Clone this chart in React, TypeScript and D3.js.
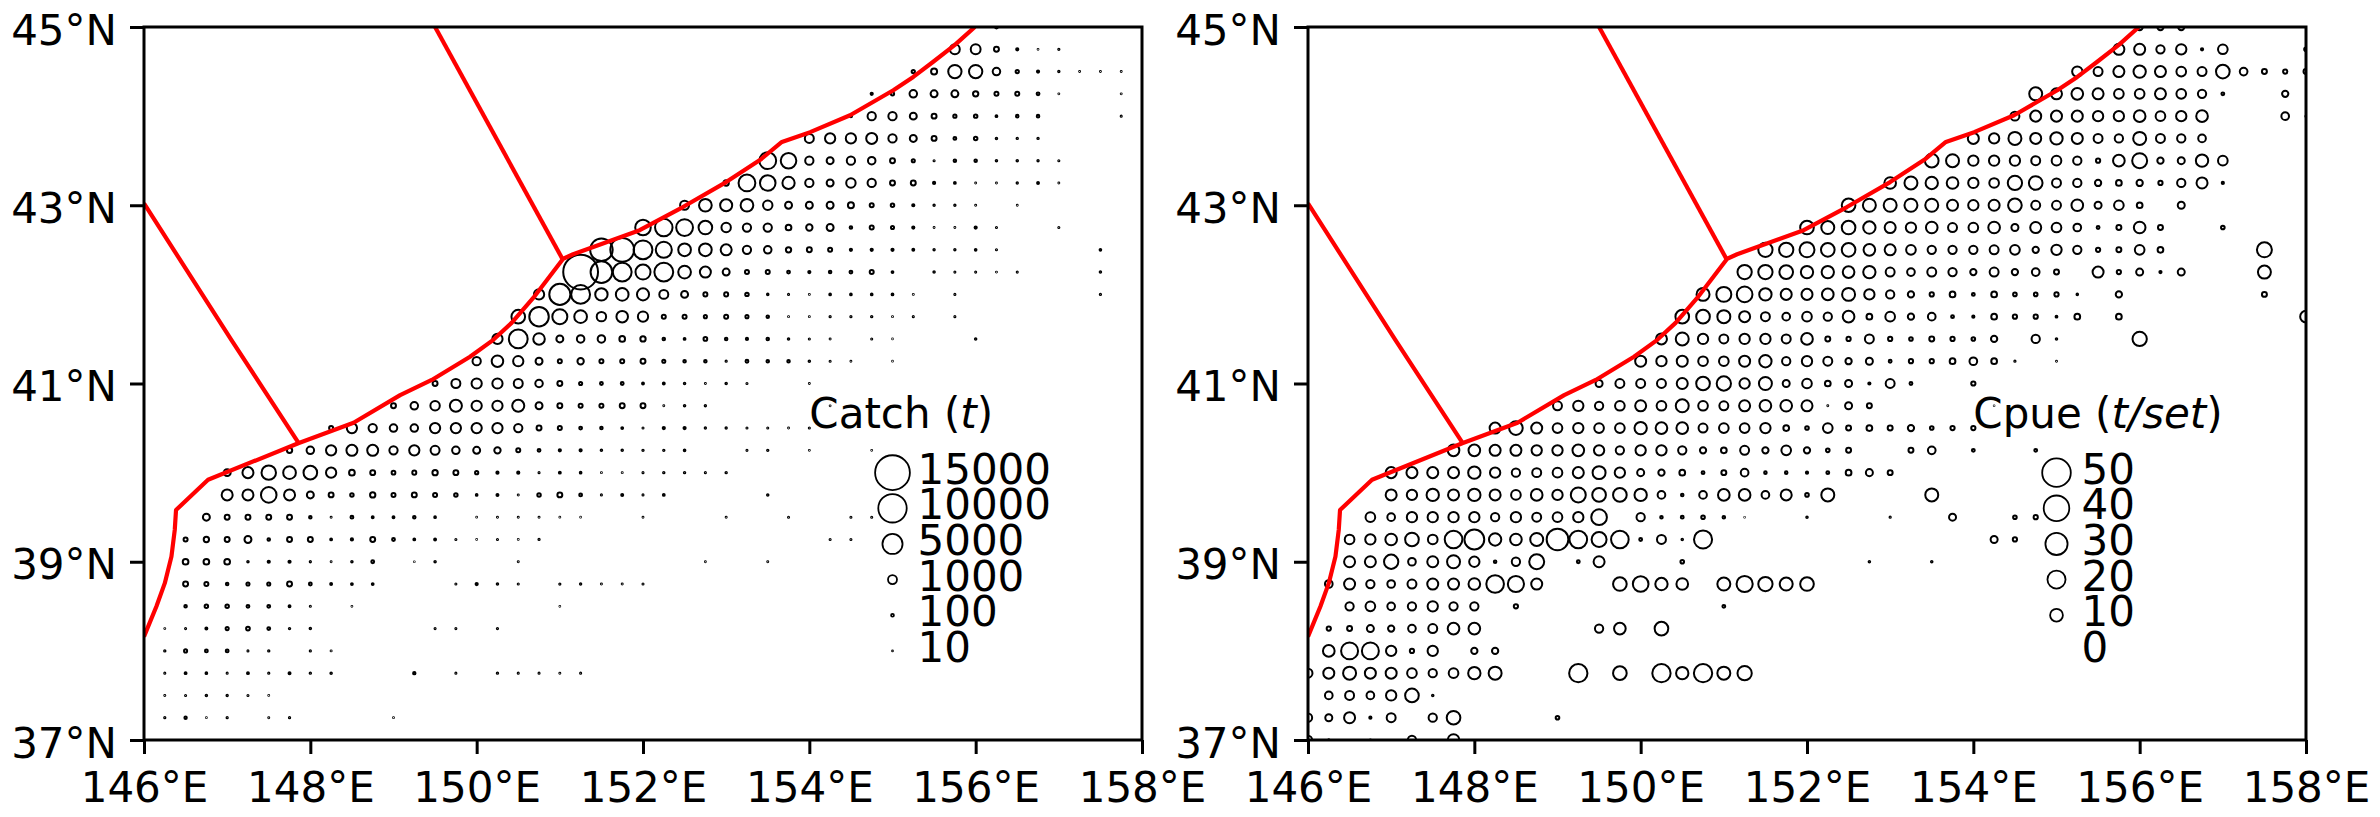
import React, { useEffect, useRef } from 'react';
import * as d3 from 'd3';

// grid step is 0.25 deg, a row is: first column index (from 146E) + values, 0 = no fishing
const rowLats = [45, 44.75, 44.5, 44.25, 44, 43.75, 43.5, 43.25, 43, 42.75, 42.5, 42.25, 42, 41.75, 41.5, 41.25, 41, 40.75, 40.5, 40.25, 40, 39.75, 39.5, 39.25, 39, 38.75, 38.5, 38.25, 38, 37.75, 37.5, 37.25, 37];

const catchStart = [41, 39, 37, 35, 34, 32, 30, 28, 26, 24, 22, 21, 19, 18, 17, 16, 14, 12, 9, 7, 4, 4, 3, 2, 2, 2, 2, 1, 1, 1, 1, 1, 0];
const catchRows = [
  [100],
  [1200, 1200, 300, 60, 8, 20],
  [130, 450, 2200, 2200, 700, 130, 60, 25, 10, 10, 10],
  [60, 130, 700, 600, 600, 350, 200, 200, 100, 10, 0, 0, 10],
  [60, 850, 850, 600, 300, 130, 150, 40, 80, 80, 0, 0, 0, 15],
  [1000, 1300, 1300, 1500, 850, 600, 300, 100, 150, 30, 25, 25],
  [3500, 3000, 850, 600, 850, 700, 300, 120, 15, 80, 80, 30, 30, 25, 15],
  [350, 3500, 3000, 1850, 850, 600, 1100, 850, 300, 300, 60, 40, 10, 10, 25, 45, 10],
  [1000, 2000, 1800, 2000, 1100, 600, 600, 600, 450, 200, 150, 60, 25, 25, 12, 0, 8],
  [3000, 3800, 3500, 2300, 1100, 850, 850, 400, 500, 600, 80, 200, 120, 60, 10, 10, 60, 15, 0, 0, 15],
  [6300, 7000, 4400, 3200, 2000, 2000, 1500, 850, 700, 350, 300, 200, 60, 60, 60, 45, 25, 25, 35, 15, 0, 0, 0, 0, 35],
  [15000, 5800, 4400, 2800, 4400, 2000, 1500, 600, 200, 200, 100, 60, 80, 100, 200, 40, 0, 30, 15, 15, 10, 15, 0, 0, 0, 30],
  [1300, 5500, 4400, 1900, 2000, 1800, 1000, 600, 200, 200, 150, 30, 15, 10, 35, 35, 35, 40, 10, 0, 15, 0, 0, 0, 0, 0, 0, 20],
  [2300, 4700, 2800, 2000, 1100, 1650, 1300, 200, 200, 120, 200, 120, 80, 10, 10, 20, 20, 25, 10, 15, 0, 15],
  [1300, 4400, 1650, 600, 700, 700, 400, 350, 80, 40, 170, 80, 60, 80, 30, 15, 12, 0, 15, 5, 0, 0, 0, 30],
  [850, 1650, 1300, 600, 200, 500, 200, 200, 300, 120, 80, 80, 20, 100, 80, 80, 30, 15, 10, 0, 6],
  [300, 1000, 1300, 1300, 1000, 700, 300, 120, 100, 100, 45, 45, 30, 12, 30, 15, 0, 0, 10],
  [300, 700, 1100, 1800, 1300, 1300, 1800, 600, 300, 200, 200, 300, 300, 10, 30, 25, 0, 0, 0, 0, 0, 8],
  [200, 1300, 850, 700, 700, 1300, 1300, 1300, 1300, 850, 300, 200, 100, 80, 40, 15, 60, 60, 25, 25, 15, 15, 10, 15],
  [350, 700, 1300, 1500, 1500, 850, 1300, 1000, 700, 600, 500, 200, 100, 60, 60, 30, 30, 25, 25, 35, 0, 0, 15, 25, 0, 10, 0, 0, 8],
  [600, 1500, 2600, 2000, 2300, 1300, 400, 300, 170, 200, 350, 300, 130, 60, 60, 15, 45, 35, 10, 10, 15, 25, 25, 15, 25],
  [1500, 1500, 3000, 1500, 600, 300, 150, 350, 200, 300, 200, 150, 35, 50, 12, 150, 300, 100, 15, 50, 15, 40, 0, 0, 0, 0, 30],
  [600, 300, 300, 300, 300, 80, 12, 100, 45, 45, 80, 35, 0, 8, 12, 12, 12, 8, 6, 0, 0, 10, 0, 0, 0, 12, 0, 0, 15, 0, 0, 15, 15],
  [200, 350, 300, 600, 80, 300, 300, 40, 60, 300, 100, 40, 45, 15, 6, 15, 8, 20, 0, 0, 0, 0, 0, 0, 0, 0, 0, 0, 0, 0, 0, 15, 15],
  [400, 400, 400, 30, 60, 60, 20, 10, 30, 100, 0, 6, 30, 0, 0, 0, 12, 0, 0, 0, 0, 0, 0, 0, 0, 8, 0, 0, 12],
  [300, 200, 80, 120, 120, 300, 100, 45, 40, 40, 0, 0, 0, 15, 60, 30, 15, 0, 20, 25, 12, 12, 15],
  [80, 150, 150, 100, 100, 45, 15, 0, 8, 0, 0, 0, 0, 0, 0, 0, 0, 0, 6],
  [10, 15, 50, 120, 170, 100, 25, 30, 0, 0, 0, 0, 0, 15, 15, 0, 20],
  [25, 120, 100, 100, 15, 25, 0, 20, 12],
  [15, 45, 35, 15, 45, 20, 50, 25, 30, 0, 0, 0, 70, 0, 15, 0, 25, 15, 15, 12, 15],
  [12, 15, 30, 25, 15, 8],
  [20, 70, 6, 20, 0, 12, 20, 0, 0, 0, 0, 8],
  [],
];

const cpueStart = [40, 39, 37, 35, 34, 32, 30, 28, 26, 24, 22, 21, 19, 18, 17, 16, 14, 12, 9, 7, 4, 4, 3, 2, 2, 1, 2, 1, 1, 0, 1, 0, 0];
const cpueRows = [
  [2.4, 2.4, 2.4],
  [7.4, 7.4, 4.2, 6.5, 0.3, 5.7, 0, 0, 0, 0.8],
  [6.5, 4.9, 7.4, 9.3, 7.4, 5.7, 4.9, 11.4, 3.6, 1.5, 1.1, 1.5],
  [10.3, 7.4, 8.3, 7.4, 5.7, 5.7, 7.4, 5.7, 4.2, 0.5, 0, 0, 2.4],
  [4.9, 7.4, 7.4, 7.4, 6.5, 6.5, 8.3, 5.7, 6.5, 8.3, 0, 0, 0, 3.6, 0.1],
  [7.4, 6.5, 10.3, 7.4, 9.3, 7.4, 4.9, 4.2, 10.3, 4.9, 4.2, 3.6],
  [11.4, 10.3, 6.5, 6.5, 6.5, 4.9, 5.7, 4.2, 1.1, 8.3, 13.7, 2.4, 3, 9.3, 5.7],
  [8.3, 10.3, 9.3, 8.3, 6.5, 5.7, 12.5, 11.4, 4.9, 4.2, 2.4, 2, 2.4, 1.1, 4.2, 7.4, 0.3],
  [11.4, 10.3, 10.3, 10.3, 10.3, 7.4, 6.5, 7.4, 11.4, 4.9, 4.9, 8.3, 3, 5.7, 2, 0, 3],
  [11.4, 10.3, 11.4, 9.3, 7.4, 6.5, 8.3, 4.9, 5.7, 8.3, 3, 7.4, 5.7, 3.6, 0.5, 1.5, 8.3, 1.5, 0, 0, 0.8],
  [12.5, 12.5, 13.7, 11.4, 11.4, 8.3, 7.4, 5.7, 4.2, 4.2, 4.2, 4.9, 5.7, 2.4, 6.5, 4.2, 1.1, 1.5, 5.7, 2, 0, 0, 0, 0, 13.7],
  [12.5, 12.5, 11.4, 9.3, 9.3, 8.3, 9.3, 4.9, 3.6, 4.9, 4.2, 2.4, 4.9, 2.4, 3.6, 1.5, 0, 7.4, 1.1, 3, 0.3, 3, 0, 0, 0, 10.3],
  [10.3, 13.7, 15, 9.3, 7.4, 7.4, 8.3, 10.3, 6.5, 4.2, 2.4, 1.1, 2, 0.5, 2, 0.8, 0.8, 1.1, 0.15, 0, 2.4, 0, 0, 0, 0, 0, 0, 1.5],
  [11.4, 11.4, 10.3, 7.4, 4.9, 3.6, 5.7, 4.2, 8.3, 2, 5.7, 2.4, 3.6, 0.5, 0.3, 2, 1.1, 1.1, 0.2, 2, 0, 2, 0, 0, 0, 0, 0, 0, 0, 0, 8.3],
  [7.4, 10.3, 6.5, 4.9, 6.5, 6.5, 4.9, 8.3, 1.5, 1.1, 4.9, 1.1, 0.8, 1.5, 1.1, 0.8, 2.4, 0, 4.2, 0.15, 0, 0, 0, 12.5],
  [7.4, 6.5, 7.4, 5.7, 5.7, 7.4, 9.3, 4.2, 6.5, 4.9, 2.4, 3, 0.5, 1.1, 1.1, 2, 3.6, 2, 0.1, 0, 0.05],
  [3, 4.9, 4.9, 4.9, 7.4, 11.4, 12.5, 6.5, 10.3, 3, 5.7, 2, 3, 0.3, 4.9, 0.5, 0, 0, 1.1],
  [4.9, 6.5, 4.2, 5.7, 7.4, 5.7, 10.3, 5.7, 4.9, 7.4, 8.3, 8.3, 7.4, 0.05, 3, 1.5, 0, 0, 0, 0, 0, 0.02],
  [7.4, 11.4, 7.4, 5.7, 6.5, 5.7, 5.7, 9.3, 8.3, 8.3, 4.9, 5.7, 5.7, 6.5, 2, 0.8, 5.7, 1.5, 2, 1.5, 2.4, 0.8, 1.1, 1.1],
  [8.3, 8.3, 7.4, 7.4, 6.5, 6.5, 8.3, 6.5, 4.2, 6.5, 6.5, 4.2, 2.4, 2, 4.9, 2.4, 5.7, 2.4, 0.8, 1.5, 0, 0, 1.5, 3.6, 0, 0.5, 0, 0, 0.5],
  [7.4, 7.4, 7.4, 7.4, 9.3, 6.5, 4.2, 4.9, 5.7, 7.4, 10.3, 6.5, 3, 2.4, 2, 0.5, 1.5, 3.6, 0.4, 0.4, 0.3, 0.5, 2, 3, 1.5],
  [7.4, 6.5, 9.3, 7.4, 9.3, 7.4, 5.7, 8.3, 6.5, 13.7, 11.4, 11.4, 9.3, 3.6, 0.4, 3.6, 8.3, 8.3, 3.6, 7.4, 0.8, 10.3, 0, 0, 0, 0, 10.3],
  [5.7, 3.6, 6.5, 6.5, 6.5, 6.5, 4.2, 6.5, 4.9, 5.7, 6.5, 15, 0, 4.2, 0.4, 0.5, 0.8, 0.4, 0.02, 0, 0, 0.15, 0, 0, 0, 0.1, 0, 0, 3, 0, 0, 0.8, 1.1],
  [5.7, 6.5, 8.3, 11.4, 5.7, 19, 24, 9.3, 8.3, 10.3, 28.7, 19, 13.7, 19, 0.5, 4.9, 0.15, 20, 0, 0, 0, 0, 0, 0, 0, 0, 0, 0, 0, 0, 0, 3, 1.1],
  [7.4, 7.4, 12.5, 3.6, 7.4, 10.3, 6.5, 0.4, 4.2, 13.7, 0, 0.5, 7.4, 0, 0, 0, 0.8, 0, 0, 0, 0, 0, 0, 0, 0, 0.15, 0, 0, 0.15],
  [3.6, 7.4, 4.2, 3.6, 4.9, 7.4, 7.4, 8.3, 19, 16, 7.4, 0, 0, 0, 11.4, 15, 9.3, 8.3, 0, 10.3, 16, 12.5, 10.3, 11.4],
  [4.2, 5.7, 3.6, 4.2, 6.5, 4.2, 4.2, 0, 1.1, 0, 0, 0, 0, 0, 0, 0, 0, 0, 0.5],
  [1.1, 1.5, 3, 2.4, 3.6, 4.9, 8.3, 8.3, 0, 0, 0, 0, 0, 4.2, 8.3, 0, 11.4],
  [8.3, 17.6, 17.6, 6.5, 1.1, 6.5, 0, 2.4, 2.4],
  [4.9, 7.4, 10.3, 7.4, 7.4, 5.7, 4.2, 5.7, 9.3, 10.3, 0, 0, 0, 20.5, 0, 11.4, 0, 20.5, 9.3, 20.5, 10.3, 12.5],
  [3.6, 4.9, 3.6, 6.5, 11.4, 0.15],
  [4.2, 3, 7.4, 0.3, 4.9, 0, 4.2, 11.4, 0, 0, 0, 0, 0.8],
  [4.2, 0.1, 0, 0.05, 0, 4.2, 0, 8.3],
];

// EEZ boundary, [lon, lat]
const coastLine = [[146, 38.16], [146.15, 38.5], [146.25, 38.76], [146.33, 39.06], [146.37, 39.36], [146.385, 39.58], [146.77, 39.92], [147.855, 40.33], [148.52, 40.56], [149.08, 40.87], [149.46, 41.04], [149.92, 41.3], [150.2, 41.49], [150.42, 41.68], [150.68, 41.96], [151.04, 42.4], [151.16, 42.45], [151.96, 42.72], [152.48, 42.98], [153, 43.26], [153.41, 43.51], [153.67, 43.71], [154.01, 43.82], [154.49, 44.01], [155.01, 44.29], [155.25, 44.44], [155.49, 44.61], [155.75, 44.8], [155.99, 45]];
const borderNorth = [[149.5, 45], [151.03, 42.4]];
const borderSouth = [[146, 43.02], [147.05, 41.49], [147.86, 40.33]];

const lonTicks = [146, 148, 150, 152, 154, 156, 158];
const latTicks = [37, 39, 41, 43, 45];
const catchLegend = [15000, 10000, 5000, 1000, 100, 10];
const cpueLegend = [50, 40, 30, 20, 10, 0];
const legendLats = [40, 39.6, 39.2, 38.8, 38.4, 38];

const FONT = '"DejaVu Sans"';
const FONT_SIZE = '42px';

export default function App() {
  const svgRef = useRef<SVGSVGElement>(null);

  useEffect(() => {
    const svg = d3.select(svgRef.current);
    svg.selectAll('*').remove();

    const top = 27;
    const bottom = 740;

    const drawPanel = (id, left, right, starts, rows, sizeMax, rMax, legendVals, titleMain, titleItalic) => {
      const x = d3.scaleLinear().domain([146, 158]).range([left, right]);
      const y = d3.scaleLinear().domain([37, 45]).range([bottom, top]);
      const r = d3.scaleSqrt().domain([0, sizeMax]).range([0, rMax]);

      svg.append('clipPath').attr('id', id)
        .append('rect')
        .attr('x', left).attr('y', top)
        .attr('width', right - left).attr('height', bottom - top);

      const g = svg.append('g').attr('clip-path', `url(#${id})`);

      const pts = [];
      rows.forEach((row, i) => {
        row.forEach((v, j) => {
          if (v > 0) pts.push({ lon: 146 + (starts[i] + j) * 0.25, lat: rowLats[i], v });
        });
      });

      g.selectAll('circle').data(pts).join('circle')
        .attr('cx', d => x(d.lon))
        .attr('cy', d => y(d.lat))
        .attr('r', d => r(d.v))
        .attr('fill', 'none')
        .attr('stroke', '#000')
        .attr('stroke-width', 2);

      const line = d3.line().x(d => x(d[0])).y(d => y(d[1]));
      [coastLine, borderNorth, borderSouth].forEach(b => {
        g.append('path')
          .attr('d', line(b))
          .attr('fill', 'none')
          .attr('stroke', '#ff0000')
          .attr('stroke-width', 4.2)
          .attr('stroke-linejoin', 'round');
      });

      // legend
      const lg = svg.append('g');
      legendVals.forEach((v, i) => {
        if (v > 0) {
          lg.append('circle')
            .attr('cx', x(155)).attr('cy', y(legendLats[i]))
            .attr('r', r(v))
            .attr('fill', 'none').attr('stroke', '#000').attr('stroke-width', 1.8);
        }
        lg.append('text')
          .attr('x', x(155.3)).attr('y', y(legendLats[i]) + 11)
          .style('font-family', FONT).style('font-size', FONT_SIZE)
          .text(v);
      });
      const title = lg.append('text')
        .attr('x', x(154)).attr('y', y(40.5))
        .style('font-family', FONT).style('font-size', FONT_SIZE);
      title.append('tspan').text(`${titleMain}(`);
      title.append('tspan').style('font-style', 'oblique').text(titleItalic);
      title.append('tspan').text(')');

      // frame and axes
      svg.append('rect')
        .attr('x', left).attr('y', top)
        .attr('width', right - left).attr('height', bottom - top)
        .attr('fill', 'none').attr('stroke', '#000').attr('stroke-width', 3);

      const styleAxis = (a, tx, ty, dy) => {
        a.select('.domain').remove();
        a.selectAll('line').attr('stroke', '#000').attr('stroke-width', 3);
        a.selectAll('text')
          .attr('fill', '#000')
          .attr('dy', dy)
          .style('font-family', FONT).style('font-size', FONT_SIZE);
        if (tx !== null) a.selectAll('text').attr('x', tx);
        if (ty !== null) a.selectAll('text').attr('y', ty);
      };

      svg.append('g').attr('transform', `translate(0,${bottom})`)
        .call(d3.axisBottom(x).tickValues(lonTicks).tickSize(14).tickFormat(d => `${d}°E`))
        .call(a => styleAxis(a, null, 62, 0));

      svg.append('g').attr('transform', `translate(${left},0)`)
        .call(d3.axisLeft(y).tickValues(latTicks).tickSize(14).tickFormat(d => `${d}°N`))
        .call(a => styleAxis(a, -27, null, 17));
    };

    drawPanel('clip-catch', 144, 1142, catchStart, catchRows, 15000, 17.4, catchLegend, 'Catch ', 't');
    drawPanel('clip-cpue', 1308, 2306, cpueStart, cpueRows, 50, 14.3, cpueLegend, 'Cpue ', 't/set');
  }, []);

  return (
    <svg
      ref={svgRef}
      width={2380}
      height={817}
      style={{ position: 'absolute', left: 0, top: 0, background: '#fff' }}
    />
  );
}
